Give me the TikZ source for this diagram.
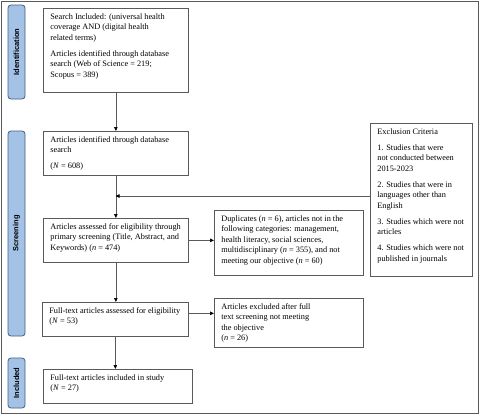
\documentclass[tikz,border=0pt]{standalone}
\usepackage{fontspec}
\setmainfont{Liberation Serif}
\newfontfamily\sidefont{Liberation Sans}
\usetikzlibrary{arrows.meta}
\definecolor{sidefill}{HTML}{A4C2E6}
\definecolor{sideline}{HTML}{3F5F80}
\definecolor{lngray}{HTML}{5A5A5A}
\newcommand{\boxtxt}[3]{\begin{minipage}[c][#2pt][t]{#1pt}\raggedright\setlength{\parskip}{5.5pt}#3\end{minipage}}
\begin{document}
\begin{tikzpicture}[x=1pt,y=-1pt,
  font=\fontsize{8.3}{10.5}\selectfont,
  box/.style={draw=lngray, line width=0.7pt, inner xsep=7pt, inner ysep=5pt, anchor=north west},
  side/.style={draw=sideline, fill=sidefill, line width=0.8pt, rounded corners=3pt, rotate=90, minimum height=17pt, inner sep=0pt, font=\sidefont\bfseries\fontsize{7.5}{9}\selectfont},
  flow/.style={draw=lngray, line width=0.7pt, -{Triangle[length=4pt,width=3.5pt,color=black]}}
]
\useasboundingbox (0,0) rectangle (480,415);
\draw[lngray, line width=0.8pt] (1,1) rectangle (478.5,413.5);

\node[side, minimum width=94pt] (sid) at (16.5,52) {Identification};
\node[side, minimum width=205pt] (sscr) at (16.5,233.5) {Screening};
\node[side, minimum width=50pt] (sinc) at (16.5,383) {Included};

\node[box] (b1) at (43,8) {\boxtxt{131}{74}{Search Included: (universal health\\coverage AND (digital health\\related terms)\par Articles identified through database\\search (Web of Science = 219;\\Scopus = 389)}};
\node[box] (b2) at (43,131) {\boxtxt{131}{34}{Articles identified through database\\search\par (\textit{N} = 608)}};
\node[box] (b3) at (43,218) {\boxtxt{131}{34}{Articles assessed for eligibility through\\primary screening (Title, Abstract, and\\Keywords) (\textit{n} = 474)}};
\node[box] (dup) at (214,210) {\boxtxt{135}{55}{Duplicates (\textit{n} = 6), articles not in the\\following categories: management,\\health literacy, social sciences,\\multidisciplinary (\textit{n} = 355), and not\\meeting our objective (\textit{n} = 60)}};
\node[box] (ex) at (370,123) {\boxtxt{88}{143}{Exclusion Criteria\par 1. Studies that were\\not conducted between\\2015-2023\par 2. Studies that were in\\languages other than\\English\par 3. Studies which were not\\articles\par 4. Studies which were not\\published in journals}};
\node[box] (b4) at (42,302) {\boxtxt{132}{24}{Full-text articles assessed for eligibility\\(\textit{N} = 53)}};
\node[box] (exc) at (214,298) {\boxtxt{135}{39}{Articles excluded after full\\text screening not meeting\\the objective\\(\textit{n} = 26)}};
\node[box] (b5) at (43,369) {\boxtxt{135}{24}{Full-text articles included in study\\(\textit{N} = 27)}};

\coordinate (m) at (115.5,196);
\draw[flow] (b1.south) -- (b2.north);
\draw[flow] (b2.south) -- (b3.north);
\draw[flow] (ex.west |- m) -- (m);
\draw[flow] (b3.east) -- (b3.east -| dup.west);
\draw[flow] (b3.south) -- (b4.north -| b3.south);
\draw[flow] ([yshift=6pt]b4.east) -- ([yshift=6pt]b4.east -| exc.west);
\draw[flow] (b4.south) -- (b4.south |- b5.north);
\end{tikzpicture}
\end{document}
